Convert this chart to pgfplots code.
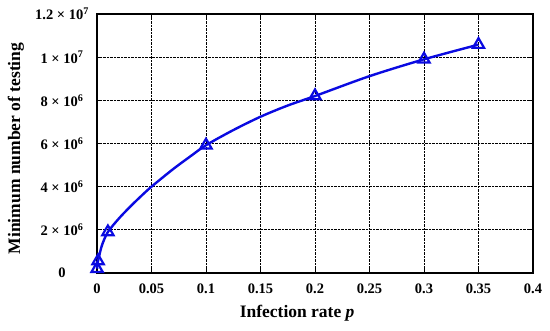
\documentclass[border=0pt]{standalone}
\usepackage{pgfplots}
\pgfplotsset{compat=1.18}
\usepackage{fontspec}
\setmainfont{Liberation Serif}
\definecolor{lineblue}{RGB}{10,10,225}
\begin{document}
\begin{tikzpicture}
\begin{axis}[
  name=ax,
  scale only axis,
  width=436pt, height=259pt,
  xmin=0, xmax=0.4, ymin=0, ymax=12000000,
  xtick={0,0.05,0.1,0.15,0.2,0.25,0.3,0.35,0.4},
  xticklabels={\textbf{0},\textbf{0.05},\textbf{0.1},\textbf{0.15},\textbf{0.2},\textbf{0.25},\textbf{0.3},\textbf{0.35},\textbf{0.4}},
  ytick={0,2000000,4000000,6000000,8000000,10000000,12000000},
  yticklabels={\textbf{0},\textbf{2 × 10\textsuperscript{6}},\textbf{4 × 10\textsuperscript{6}},\textbf{6 × 10\textsuperscript{6}},\textbf{8 × 10\textsuperscript{6}},\textbf{1 × 10\textsuperscript{7}},\textbf{1.2 × 10\textsuperscript{7}}},
  scaled ticks=false,
  tick label style={font=\fontsize{14.5}{16}\selectfont},
  xticklabel style={yshift=-7pt},
  yticklabel style={anchor=center, xshift=-35pt},
  tick align=inside,
  major tick length=4pt,
  tick style={black, line width=0.8pt},
  axis line style={black, line width=1.5pt},
  grid=major,
  major grid style={black, densely dotted, line width=0.7pt},
  xlabel={\textbf{Infection rate \textit{p}}},
  ylabel={\textbf{Minimum number of testing}},
  label style={font=\fontsize{17.5}{19}\selectfont},
  xlabel style={at={(axis description cs:0.459,-0.157)}, anchor=center},
  ylabel style={at={(axis description cs:-0.186,0.481)}, anchor=center, rotate=0},
  clip=false,
]
\addplot[lineblue, line width=2.4pt, smooth, tension=0.5] coordinates {
  (0.0001,200000) (0.0005,420000) (0.001,560000) (0.003,1000000) (0.005,1350000)
  (0.01,1900000) (0.02,2520000) (0.03,3050000) (0.04,3540000) (0.05,4000000)
  (0.07,4820000) (0.085,5380000) (0.1,5920000) (0.125,6620000) (0.15,7240000)
  (0.175,7760000) (0.2,8200000) (0.25,9120000) (0.3,9900000) (0.35,10580000)
};
\addplot[lineblue, only marks, mark=triangle, mark size=6.5pt, mark options={solid, line width=2.2pt, fill=white}] coordinates {
  (0.0001,200000) (0.001,560000) (0.01,1900000) (0.1,5920000) (0.2,8200000) (0.3,9900000) (0.35,10580000)
};
\end{axis}
\pgfresetboundingbox
\path ([shift={(-97pt,-58pt)}]ax.south west) rectangle ++(550pt,331pt);
\end{tikzpicture}
\end{document}
